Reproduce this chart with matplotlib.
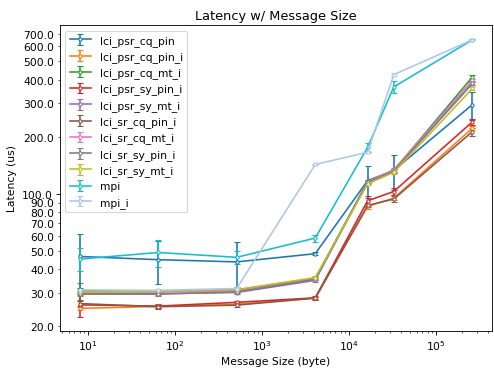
import numpy as np
import matplotlib.pyplot as plt
from matplotlib.ticker import FormatStrFormatter


sizes = [8, 64, 512, 4096, 16384, 32768, 262144]

labels = ['lci_psr_cq_pin', 'lci_psr_cq_pin_i', 'lci_psr_cq_mt_i', 'lci_psr_sy_pin_i',
          'lci_psr_sy_mt_i', 'lci_sr_cq_pin_i', 'lci_sr_cq_mt_i', 'lci_sr_sy_pin_i',
          'lci_sr_sy_mt_i', 'mpi', 'mpi_i']

# mean latency (us) per message size
lci_psr_cq_pin = [46.8, 45.0, 43.8, 48.4, 117.6, 133, 296]
lci_psr_cq_pin_i = [24.9, 25.5, 26.2, 28.2, 86, 95, 222]
lci_psr_cq_mt_i = [30.8, 30.6, 31.0, 35.8, 116, 133, 414]
lci_psr_sy_pin_i = [26.0, 25.6, 26.8, 28.3, 92, 103, 240]
lci_psr_sy_mt_i = [29.9, 29.8, 30.2, 35.0, 116, 133, 382]
lci_sr_cq_pin_i = [26.4, 25.4, 25.9, 28.2, 87, 94, 213]
lci_sr_cq_mt_i = [30.5, 30.4, 30.8, 35.6, 116, 134, 398]
lci_sr_sy_pin_i = [29.6, 29.6, 30.4, 35.5, 115, 132, 385]
lci_sr_sy_mt_i = [30.3, 30.6, 31.3, 36.2, 113, 130, 360]
mpi = [45.3, 49.1, 46.3, 58.5, 176, 367, 650]
mpi_i = [31.2, 31.0, 31.7, 143, 166, 426, 650]

# standard deviation per message size
err_psr_cq_pin = [15, 11.5, 11.7, 1.0, 22, 28, 50]
err_psr_cq_pin_i = [0.6, 0.5, 0.4, 0.5, 2.5, 2.0, 5]
err_psr_cq_mt_i = [3.2, 0.6, 0.4, 0.5, 2.0, 3.0, 8]
err_psr_sy_pin_i = [3.6, 0.5, 0.5, 0.5, 6.0, 4.0, 10]
err_psr_sy_mt_i = [0.5, 0.5, 0.4, 0.5, 2.0, 3.0, 8]
err_sr_cq_pin_i = [1.0, 0.8, 0.6, 0.5, 2.0, 3.0, 10]
err_sr_cq_mt_i = [0.5, 0.5, 0.4, 0.5, 2.0, 3.0, 8]
err_sr_sy_pin_i = [0.6, 0.5, 0.4, 0.5, 2.0, 3.0, 8]
err_sr_sy_mt_i = [0.5, 0.5, 0.4, 0.5, 2.0, 3.0, 8]
err_mpi = [6.3, 8.0, 3.7, 2.5, 10, 25, 5]
err_mpi_i = [0.5, 0.5, 0.5, 1.5, 2.0, 8.0, 5]

means = [lci_psr_cq_pin, lci_psr_cq_pin_i, lci_psr_cq_mt_i, lci_psr_sy_pin_i,
         lci_psr_sy_mt_i, lci_sr_cq_pin_i, lci_sr_cq_mt_i, lci_sr_sy_pin_i,
         lci_sr_sy_mt_i, mpi, mpi_i]
errs = [err_psr_cq_pin, err_psr_cq_pin_i, err_psr_cq_mt_i, err_psr_sy_pin_i,
        err_psr_sy_mt_i, err_sr_cq_pin_i, err_sr_cq_mt_i, err_sr_sy_pin_i,
        err_sr_sy_mt_i, err_mpi, err_mpi_i]

colors = ['#1f77b4', '#ff7f0e', '#2ca02c', '#d62728', '#9467bd', '#8c564b',
          '#e377c2', '#7f7f7f', '#bcbd22', '#17becf', '#aec7e8']

fig = plt.figure(figsize=(6.4, 4.82), dpi=77.34)
ax = fig.add_subplot(111)

for label, y, e, c in zip(labels, means, errs, colors):
	ax.errorbar(sizes, y, yerr=e, label=label, color=c, marker='o', markersize=3,
	            markerfacecolor='white', capsize=3)

ax.set_xscale('log')
ax.set_yscale('log')
ax.yaxis.set_major_formatter(FormatStrFormatter('%.1f'))
ax.yaxis.set_minor_formatter(FormatStrFormatter('%.1f'))

ax.set_title('Latency w/ Message Size')
ax.set_xlabel('Message Size (byte)')
ax.set_ylabel('Latency (us)')
ax.legend(loc='upper left')

plt.subplots_adjust(left=0.121, right=0.994, bottom=0.11, top=0.93)
plt.savefig('out.png')
